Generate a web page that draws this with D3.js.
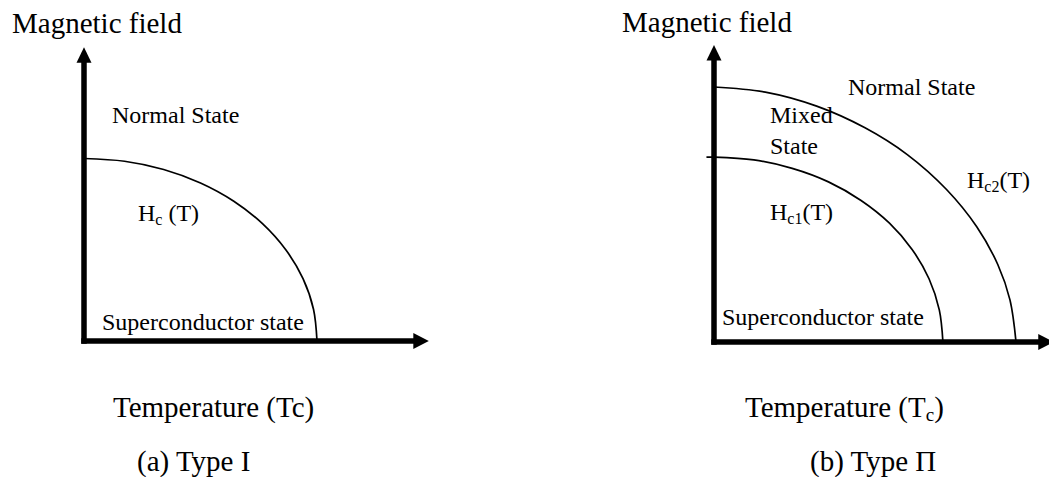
<!DOCTYPE html>
<html>
<head>
<meta charset="utf-8">
<script src="https://cdn.jsdelivr.net/npm/d3@7"></script>
<style>
  html, body { margin: 0; padding: 0; background: #fff; }
  svg { display: block; }
  text { font-family: "Liberation Serif", "Times New Roman", serif; fill: #000; }
</style>
</head>
<body>
<svg id="chart" width="1049" height="477"></svg>
<script>
// ---------------- data ----------------
// (a) Type I : critical field curve, reduced units T/Tc, H/Hc(0)
const hcT  = [0, 0.174, 0.342, 0.500, 0.643, 0.766, 0.866, 0.940, 0.985, 1.000];
const hcH  = [1.000, 0.985, 0.940, 0.866, 0.766, 0.643, 0.500, 0.342, 0.174, 0.000];
// (b) Type II : upper critical field, reduced units T/Tc2, H/Hc2(0)
const hc2T = [0, 0.170, 0.340, 0.500, 0.640, 0.770, 0.870, 0.940, 0.980, 1.000];
const hc2H = [1.000, 0.980, 0.925, 0.840, 0.735, 0.598, 0.452, 0.303, 0.165, 0.000];
// (b) Type II : lower critical field, same units (line starts slightly left of the axis)
const hc1T = [-0.025, 0, 0.132, 0.259, 0.379, 0.487, 0.581, 0.656, 0.712, 0.746, 0.758];
const hc1H = [0.725, 0.725, 0.714, 0.681, 0.628, 0.555, 0.466, 0.363, 0.248, 0.126, 0.000];
// axis extents (arrow tips) in the same units: [T max, H max]
const axisMaxA = [1.48, 1.61];
const axisMaxB = [1.125, 1.165];
// texts
const yTitles   = ["Magnetic field", "Magnetic field"];
const xTitleA   = ["Temperature (Tc)"];
const xTitleB   = ["Temperature (T", "c", ")"];
const captions  = ["(a) Type I", "(b) Type \u03A0"];
const regionA   = ["Normal State", "Superconductor state"];
const regionB   = ["Normal State", "Mixed", "State", "Superconductor state"];
const curveLabA = ["H", "c", " (T)"];
const curveLabB1 = ["H", "c1", "(T)"];
const curveLabB2 = ["H", "c2", "(T)"];

// ---------------- drawing ----------------
const svg = d3.select("#chart");
const AXW = 5.5;

function drawAxes(g, x, y, maxT, maxH) {
  const x0 = x(0), y0 = y(0);
  const tipX = x(maxT), tipY = y(maxH);
  const headLen = 15.5, headHalf = 7.5;
  g.append("line").attr("x1", x0 - AXW / 2).attr("x2", tipX - headLen + 1)
    .attr("y1", y0).attr("y2", y0).attr("stroke", "#000").attr("stroke-width", AXW);
  g.append("line").attr("x1", x0).attr("x2", x0)
    .attr("y1", y0 + AXW / 2).attr("y2", tipY + headLen - 1)
    .attr("stroke", "#000").attr("stroke-width", AXW);
  g.append("path").attr("d", d3.line()([[tipX, y0], [tipX - headLen, y0 - headHalf - 0.5], [tipX - headLen, y0 + headHalf + 0.5]]) + "Z")
    .attr("fill", "#000");
  g.append("path").attr("d", d3.line()([[x0, tipY], [x0 - headHalf, tipY + headLen], [x0 + headHalf, tipY + headLen]]) + "Z")
    .attr("fill", "#000");
}

function drawCurve(g, x, y, T, H) {
  const pts = T.map((t, i) => [t, H[i]]);
  g.append("path")
    .attr("d", d3.line().x(d => x(d[0])).y(d => y(d[1])).curve(d3.curveCatmullRom.alpha(0.5))(pts))
    .attr("fill", "none").attr("stroke", "#000").attr("stroke-width", 1.7);
}

function subText(g, px, py, parts, size, subSize, dy) {
  const t = g.append("text").attr("x", px).attr("y", py).attr("font-size", size);
  t.append("tspan").text(parts[0]);
  t.append("tspan").attr("font-size", subSize).attr("dy", dy).text(parts[1]);
  t.append("tspan").attr("dy", -dy).text(parts[2]);
  return t;
}

// ---- panel (a)
const gA = svg.append("g");
const xA = d3.scaleLinear().domain([0, 1]).range([84, 317]);
const yA = d3.scaleLinear().domain([0, 1]).range([341, 158.5]);
drawCurve(gA, xA, yA, hcT, hcH);
drawAxes(gA, xA, yA, axisMaxA[0], axisMaxA[1]);
gA.append("text").attr("x", 12).attr("y", 33).attr("font-size", 29).text(yTitles[0]);
gA.append("text").attr("x", 112).attr("y", 123).attr("font-size", 24).text(regionA[0]);
subText(gA, 138, 221, curveLabA, 24, 16, 4);
gA.append("text").attr("x", 102).attr("y", 330).attr("font-size", 24).text(regionA[1]);
gA.append("text").attr("x", 113).attr("y", 417).attr("font-size", 29).text(xTitleA[0]);
gA.append("text").attr("x", 137).attr("y", 471).attr("font-size", 29).text(captions[0]);

// ---- panel (b)
const gB = svg.append("g");
const xB = d3.scaleLinear().domain([0, 1]).range([714, 1016]);
const yB = d3.scaleLinear().domain([0, 1]).range([342, 87]);
drawCurve(gB, xB, yB, hc2T, hc2H);
drawCurve(gB, xB, yB, hc1T, hc1H);
drawAxes(gB, xB, yB, axisMaxB[0], axisMaxB[1]);
gB.append("text").attr("x", 622).attr("y", 32).attr("font-size", 29).text(yTitles[1]);
gB.append("text").attr("x", 848).attr("y", 95).attr("font-size", 24).text(regionB[0]);
gB.append("text").attr("x", 770).attr("y", 123).attr("font-size", 24).text(regionB[1]);
gB.append("text").attr("x", 770).attr("y", 154).attr("font-size", 24).text(regionB[2]);
subText(gB, 967, 188, curveLabB2, 24, 16, 4);
subText(gB, 770, 220, curveLabB1, 24, 16, 4);
gB.append("text").attr("x", 722).attr("y", 325).attr("font-size", 24).text(regionB[3]);
subText(gB, 745, 417, xTitleB, 29, 19, 4);
gB.append("text").attr("x", 810).attr("y", 471).attr("font-size", 29).text(captions[1]);
</script>
</body>
</html>
